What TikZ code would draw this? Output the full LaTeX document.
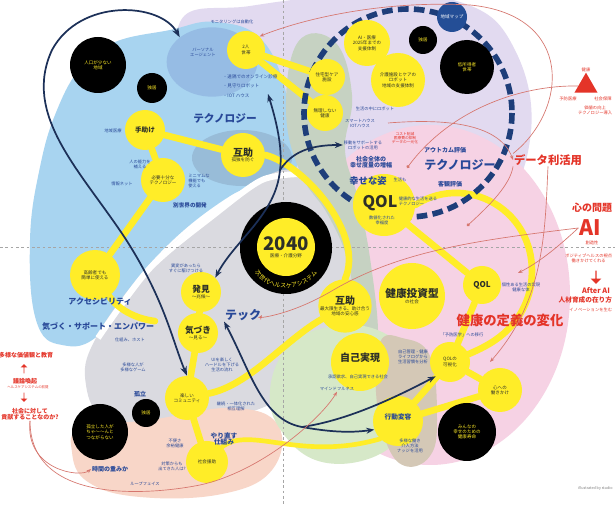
\documentclass[tikz,border=0pt]{standalone}
\usepackage{fontspec}
\newfontfamily\jp{Noto Sans CJK JP}
\usetikzlibrary{arrows.meta,shapes.geometric,shapes.arrows,decorations.text}
\pgfdeclarelayer{back}
\pgfdeclarelayer{mid}
\pgfsetlayers{back,mid,main}

\definecolor{skybg}{RGB}{168,212,240}
\definecolor{persbg}{RGB}{150,188,228}
\definecolor{gojobg}{RGB}{152,188,216}
\definecolor{lavbg}{RGB}{226,218,240}
\definecolor{pinkbg}{RGB}{246,210,228}
\definecolor{sagebg}{RGB}{198,210,194}
\definecolor{graybg}{RGB}{218,218,224}
\definecolor{greenbg}{RGB}{214,232,200}
\definecolor{peachbg}{RGB}{248,214,200}
\definecolor{tanbg}{RGB}{212,200,182}
\definecolor{hlyellow}{RGB}{255,237,40}
\definecolor{navy}{RGB}{28,48,88}
\definecolor{dashnavy}{RGB}{30,62,122}
\definecolor{inkblue}{RGB}{40,72,152}
\definecolor{inkdark}{RGB}{45,48,40}
\definecolor{hlred}{RGB}{228,52,40}
\definecolor{pinkline}{RGB}{214,118,110}
\definecolor{mapblue}{RGB}{36,78,150}

\tikzset{every picture/.style={line width=0.75pt}}
\tikzset{
  ydisc/.style={circle, fill=hlyellow, inner sep=0pt, minimum size={#1*1.5pt}, align=center, text=inkdark, font=\jp\fontsize{3.4}{4}\selectfont},
  bdisc/.style={circle, fill=black, inner sep=0pt, minimum size={#1*1.5pt}, align=center, text=hlyellow, font=\jp\fontsize{3.4}{4}\selectfont},
  lbl/.style={inner sep=0.5pt, align=center, text=inkblue, font=\jp\fontsize{3.2}{3.9}\selectfont},
  redlbl/.style={lbl, text=hlred},
  bigblue/.style={inner sep=0.5pt, align=center, text=inkblue, font=\jp\bfseries\fontsize{#1}{#1}\selectfont},
  bigred/.style={bigblue=#1, text=hlred},
  yband/.style={draw=hlyellow, line width=5pt, line cap=round},
  navyline/.style={draw=navy, line width=1.3pt},
  navytip/.style={-{Stealth[length=6pt,width=4.5pt]}},
  pinkarrow/.style={draw=pinkline, line width=0.5pt, -{Stealth[length=3.5pt,width=2.6pt]}},
  blockarrow/.style={single arrow, fill=hlred, inner sep=0pt, single arrow head extend=1.5pt, minimum height=#1, minimum width=5pt},
}

\begin{document}
\begin{tikzpicture}[x=0.75pt,y=0.75pt,yscale=-1,xscale=1]
\useasboundingbox (0,0) rectangle (615,505);

\begin{pgfonlayer}{back}
\fill[white] (0,0) rectangle (615,505);
%Shape: Blob [lavender]
\fill[lavbg] plot[smooth cycle, tension=0.7] coordinates {(180,22) (250,6) (350,-4) (460,2) (515,50) (530,140) (490,220) (400,255) (310,235) (250,180) (200,110)};
%Shape: Blob [sky blue]
\fill[skybg] plot[smooth cycle, tension=0.7] coordinates {(40,167) (57,110) (82,66) (115,42) (170,30) (215,22) (262,40) (288,100) (296,168) (230,196) (155,258) (102,332) (62,345) (36,320) (30,240)};
%Shape: Ellipse [personal agent]
\node (pers) [ellipse, fill=persbg, minimum width=68pt, minimum height=52pt, inner sep=0pt] at (212,62) {};
%Shape: Ellipse [mutual aid]
\fill[gojobg] (242,158) ellipse [x radius=50, y radius=28];
%Shape: Ellipse [pink]
\fill[pinkbg] (430,295) ellipse [x radius=140, y radius=170];
%Shape: Blob [gray]
\fill[graybg] plot[smooth cycle, tension=0.7] coordinates {(96,338) (150,265) (215,212) (262,178) (300,172) (335,205) (352,265) (350,330) (318,372) (275,402) (225,418) (165,424) (108,420) (86,385)};
%Shape: Blob [sage band]
\fill[sagebg] plot[smooth cycle, tension=0.7] coordinates {(298,42) (335,42) (352,95) (345,150) (358,198) (370,258) (378,335) (368,352) (357,320) (348,262) (328,215) (300,172) (286,110)};
%Shape: Blob [peach]
\fill[peachbg] plot[smooth cycle, tension=0.7] coordinates {(82,428) (150,420) (232,408) (278,425) (272,470) (222,494) (140,497) (88,482) (72,452)};
%Shape: Blob [green]
\fill[greenbg] plot[smooth cycle, tension=0.7] coordinates {(290,345) (335,326) (382,332) (408,362) (404,422) (378,455) (322,462) (282,432) (270,390)};
%Shape: Blob [tan]
\fill[tanbg] plot[smooth cycle, tension=0.7] coordinates {(380,342) (402,338) (430,356) (437,420) (430,456) (405,466) (386,442) (376,392)};
%Straight Lines [white edge]
\draw[white, line width=4.5pt] plot[smooth] coordinates {(98,338) (150,268) (215,214) (262,180) (300,174)};
%Straight Lines [cross]
\draw[gray!70, line width=0.6pt, dash pattern=on 2pt off 2pt] (0,247) -- (615,247);
\draw[gray!70, line width=0.6pt, dash pattern=on 2pt off 2pt] (283,0) -- (283,505);
\end{pgfonlayer}

%Shape: Circle [dashed ring]
\draw[dashnavy, line width=4.2pt, dash pattern=on 8pt off 4pt] (408,113) circle [radius=104];

%Shape: Circle [yellow]
\node (futari) [ydisc=19] at (246,50) {2人\\世帯};
\node (aiiryo) [ydisc=23] at (367,43) {AI・医療\\2025年までの\\支援体制};
\node (kaigo) [ydisc=27] at (398,80) {介護施設とケアの\\ロボット\\地域の支援体制};
\node (jutaku) [ydisc=18] at (327,77) {住宅型ケア\\施設};
\node (murinai) [ydisc=18] at (325,113) {無理しない\\健康};
\node (tedasuke) [ydisc=20] at (145,130) {\fontsize{5}{6}\selectfont\bfseries 手助け};
\node (gojo1) [ydisc=22] at (243,155) {{\fontsize{7.5}{8}\selectfont\bfseries 互助}\\孤独を防ぐ};
\node (hitsuyou) [ydisc=22] at (163,180) {必要十分な\\テクノロジー};
\node (kourei) [ydisc=25] at (95,275) {高齢者でも\\簡単に使える};
\node (qolbig) [ydisc=31] at (384,205) {};
\node (hakken) [ydisc=20] at (201,292) {{\fontsize{6.5}{7}\selectfont\bfseries 発見}\\〜兆候〜};
\node (kizuki) [ydisc=20] at (198,333) {{\fontsize{6.5}{7}\selectfont\bfseries 気づき}\\〜見る〜};
\node (tanoshii) [ydisc=22] at (187,398) {楽しい\\コミュニティ};
\node (enjo) [ydisc=21] at (207,462) {社会援助};
\node (gojo2) [ydisc=26] at (345,306) {{\fontsize{7.5}{8}\selectfont\bfseries 互助}\\最大限生きる、助け合う\\地域の安心感};
\node (toushi) [ydisc=33] at (412,296) {{\fontsize{8}{9}\selectfont\bfseries 健康投資型}\\の社会};
\node (qols) [ydisc=19] at (482,285) {\fontsize{6}{7}\selectfont\bfseries QOL};
\node (jiko) [ydisc=29] at (360,362) {};
\node (koudou) [ydisc=25] at (398,421) {};
\node (kashika) [ydisc=20] at (450,362) {QOLの\\可視化};
\node (kokoro) [ydisc=22] at (500,390) {心への\\働きかけ};

%Shape: Circle [black]
\node (jinkou) [bdisc=28] at (98,65) {人口が少ない\\地域};
\node (dokkyo1) [bdisc=15] at (152,88) {独居};
\node (dokkyo2) [bdisc=14] at (423,40) {独居};
\node (teishotoku) [bdisc=27] at (467,67) {低所得者\\世帯};
\node (chizu) [bdisc=15, fill=mapblue, text=white] at (452,17) {地域マップ};
\node (koritsu) [bdisc=28] at (100,432) {孤立した人が\\ちゃ〜〜んと\\つながらない};
\node (dokkyo3) [bdisc=14] at (146,413) {独居};
\node (minna) [bdisc=29] at (467,432) {みんなの\\幸せのための\\健康寿命};
\node (c2040) [bdisc=46] at (286,248) {};
\node (y2040) [ydisc=29] at (286,247) {{\fontsize{14}{14}\selectfont\bfseries 2040}\\[1pt]医療・介護分野};
\path[decorate, decoration={text along path, text align=center, text={|\jp\fontsize{4.5}{5}\selectfont\color{hlyellow}|次世代ヘルスケアシステム}}] (c2040.center) ++(160:40) arc [start angle=160, end angle=20, radius=40];

%Shape: Triangle
\node (tri) [regular polygon, regular polygon sides=3, fill=hlred, inner sep=0pt, minimum size=20pt] at (586,86) {};
\node (upar) [blockarrow=7pt, shape border rotate=90] at (24,369) {};
\node (dnar) [blockarrow=7pt, shape border rotate=270] at (24,397) {};
\node (dnar2) [blockarrow=10pt, shape border rotate=270, minimum width=8pt] at (596,277) {};

% Text Node
\node (monitor) [lbl] at (232,22) {モニタリングは自動化};
\node (perstxt) [lbl] at (203,52) {パーソナル\\エージェント};
\node (list) [lbl, align=left, anchor=west, font=\jp\fontsize{3.4}{7}\selectfont] at (222,86) {・遠隔でのオンライン診療\\・見守りロボット\\・IOT ハウス};
\node (tech1) [bigblue=8] at (225,118) {テクノロジー};
\node (chiiki) [lbl] at (113,131) {地域医療};
\node (nouryoku) [lbl] at (140,164) {人の能力を\\補える};
\node (jouhou) [lbl] at (122,184) {情報ネット};
\node (minimum) [lbl, align=left] at (199,181) {ミニマムな\\機能でも\\使える};
\node (betsu) [bigblue=4.2] at (190,205) {別世界の開発};
\node (ihen) [lbl] at (186,268) {異変があったら\\すぐに駆けつける};
\node (access) [bigblue=6] at (100,301) {アクセシビリティ};
\node (kizuku) [bigblue=6] at (98,326) {気づく・サポート・エンパワー};
\node (shikumi) [lbl] at (130,340) {仕組み、ホスト};
\node (tayou) [lbl] at (133,367) {多様な人が\\多様なゲーム};
\node (techtxt) [bigblue=9] at (243,315) {テック};
\node (uitxt) [lbl] at (222,365) {UIを楽しく\\ハードルを下げる\\生活の流れ};
\node (keizoku) [lbl] at (236,406) {継続・一体化された\\相互理解};
\node (yarinaoshi) [bigblue=5] at (224,439) {やり直す\\仕組み};
\node (koritsutxt) [bigblue=4.5] at (140,394) {孤立};
\node (jikan) [bigblue=4.5] at (110,469) {時間の重みか};
\node (loop) [lbl] at (145,484) {ループフェイス};
\node (fuben) [lbl] at (175,443) {不便さ\\余裕健康};
\node (taisaku) [lbl] at (172,466) {対策からも\\出てきた人は?};
\node (kachi) [bigred=4.5, anchor=east] at (54,355) {多様な価値観と教育};
\node (giron) [bigred=4.5] at (25,381) {議論喚起};
\node (giron2) [redlbl, font=\jp\fontsize{2.6}{3}\selectfont] at (28,387) {ヘルスケアシステムの前提};
\node (shakai) [bigred=4.5] at (30,414) {社会に対して\\貢献することなのか?};
\node (robot) [lbl] at (375,109) {生活の中にロボット};
\node (smart) [lbl] at (360,123) {スマートハウス\\IOTハウス};
\node (idou) [lbl] at (363,145) {移動をサポートする\\ロボットの活用};
\node (cost) [redlbl, font=\jp\fontsize{2.8}{3.3}\selectfont] at (405,138) {コスト削減\\医療費の抑制\\データの一元化};
\node (zentai) [bigblue=4.5] at (371,162) {社会全体の\\幸せ度量の増幅};
\node (shiawase) [bigblue=7] at (368,181) {幸せな姿};
\node (seikatsu) [lbl] at (400,180) {生活も};
\node (qoltxt) [inner sep=0pt, text=inkdark, font=\jp\bfseries\fontsize{12}{12}\selectfont] at (380,203) {QOL};
\node (qolsub) [lbl, align=left] at (418,201) {健康的な生活を送る\\テクノロジー};
\node (qolsub2) [lbl] at (382,220) {数値化された\\幸福度};
\node (outcome) [bigblue=4.5] at (445,150) {アウトカム評価};
\node (tech2) [bigblue=9] at (460,165) {テクノロジー};
\node (kyakkan) [bigblue=4.5] at (450,184) {客観評価};
\node (data) [bigred=8.5] at (548,160) {データ利活用};
\node (kenko) [redlbl] at (586,70) {健康};
\node (yobo) [redlbl] at (568,99) {予防医療};
\node (hosho) [redlbl] at (603,99) {社会保障};
\node (kachi2) [redlbl, anchor=east] at (613,110) {価値の向上\\テクノロジー導入};
\node (kokoromon) [bigred=7.5, anchor=east] at (613,208) {心の問題};
\node (ai) [bigred=16] at (590,228) {AI};
\node (souzou) [redlbl] at (592,243) {創造性};
\node (posi) [redlbl, anchor=east] at (613,258) {ポジティブヘルスの視点\\働きかけてくれる};
\node (afterai) [bigred=5.5] at (596,291) {After AI};
\node (jinzai) [bigred=5, anchor=east] at (613,300) {人材育成の在り方};
\node (inov) [redlbl, anchor=east] at (613,310) {イノベーションを生む};
\node (teigi) [bigred=10] at (510,320) {健康の定義の変化};
\node (yobou2) [lbl] at (462,335) {「予防医学」への移行};
\node (kosei) [lbl] at (521,287) {個性ある生活の実現\\健康な体};
\node (jikotxt) [bigblue=7.5, text=inkdark] at (360,358) {自己実現};
\node (shounin) [lbl] at (358,377) {承認欲求、自己実現できる社会};
\node (mindful) [lbl] at (337,389) {マインドフルネス};
\node (koudoutxt) [bigblue=5] at (398,417) {行動変容};
\node (tayou2) [lbl] at (410,446) {多様な働き\\介入方法\\ナッジを活用};
\node (jikokanri) [lbl] at (413,357) {自己管理・健康\\ライフログから\\生活習慣を分析};
\node (credit) [inner sep=0pt, anchor=east, text=gray, font=\jp\fontsize{2.8}{3}\selectfont] at (613,488) {illustrated by studio};

%Yellow bands
\begin{pgfonlayer}{mid}
\draw[yband] (futari) -- (jutaku);
\draw[yband] (futari) -- (murinai);
\draw[yband] (tedasuke) -- (gojo1);
\draw[yband] (tedasuke) -- (hitsuyou);
\draw[yband] (hitsuyou) -- (kourei);
\draw[yband] (kourei) .. controls (115,305) and (130,318) .. (kizuku.north east);
\draw[yband] (hakken) -- (kizuki);
\draw[yband] (kizuki) -- (tanoshii);
\draw[yband] (tanoshii) -- (enjo);
\draw[yband] (tanoshii) .. controls (250,385) and (285,340) .. (gojo2);
\draw[yband] (gojo1.east) .. controls (305,165) and (365,235) .. (gojo2.north);
\draw[yband, line width=3.5pt] (enjo.north east) .. controls (250,425) and (300,462) .. (koudou.south west);
\draw[yband] (qolbig) -- (qols);
\draw[yband] (qolbig.east) .. controls (470,170) and (545,215) .. (530,290) .. controls (520,330) and (490,345) .. (kashika);
\draw[yband] (qols) -- (kashika);
\draw[yband] (kashika) -- (koudou);
\draw[yband] (kashika) -- (kokoro);
\draw[yband] (koudou) -- (kokoro);
\end{pgfonlayer}

%Navy arrows
\draw[navyline, {Stealth[length=7pt,width=5pt]}-{Stealth[length=7pt,width=5pt]}] (tanoshii.north) .. controls (172,340) and (165,300) .. (125,238) .. controls (80,170) and (22,115) .. (52,50) .. controls (80,-2) and (160,2) .. (pers.north west);
\coordinate (n2top) at (268,94);
\coordinate (n2mid) at (280,170);
\draw[navyline, {Stealth[length=6pt,width=4.5pt]}-{Stealth[length=6pt,width=4.5pt]}] (n2top) .. controls (276,120) and (283,148) .. (n2mid) .. controls (276,215) and (235,240) .. (hakken.north east);
\draw[navyline, navytip] (n2mid) .. controls (292,152) and (310,145) .. (idou.west);
\coordinate (n3mid) at (302,427);
\draw[navyline, {Stealth[length=6pt,width=4.5pt]}-{Stealth[length=6pt,width=4.5pt]}] (techtxt.south west) .. controls (250,370) and (262,420) .. (n3mid) .. controls (330,432) and (350,433) .. (koudou.200);
\draw[navyline, navytip] (n3mid) .. controls (350,420) and (400,395) .. (kashika.south west);

%Pink arrows
\coordinate (pk) at (388,123);
\coordinate (dot1) at (407,168);
\coordinate (dot2) at (467,226);
\coordinate (ptqol) at (518,273);
\coordinate (ptkoko) at (490,362);
\draw[pinkarrow] (data.north west) .. controls (568,110) and (575,15) .. (470,5) .. controls (380,0) and (300,20) .. (futari.north east);
\draw[pinkarrow] (pk) .. controls (450,118) and (500,125) .. (data.west);
\draw[pinkarrow, -{Circle[length=2.5pt]}] (tri.west) .. controls (520,85) and (450,110) .. (dot1);
\draw[pinkarrow, -{Circle[length=2.5pt]}] (data.south west) .. controls (510,185) and (490,205) .. (dot2);
\draw[pinkarrow] (data.south) .. controls (545,230) and (545,300) .. (ptkoko);
\draw[pinkarrow] (ai.west) .. controls (560,245) and (540,262) .. (ptqol);
\draw[pinkarrow] (ai.west) .. controls (480,240) and (400,250) .. (330,292) .. controls (290,315) and (260,318) .. (techtxt.east);
\draw[pinkarrow] (shakai.south) .. controls (25,470) and (80,478) .. (jikan.west);
\draw[pinkarrow] (shakai.south) .. controls (30,505) and (150,495) .. (200,485) .. controls (260,472) and (320,420) .. (mindful.south);

\end{tikzpicture}
\end{document}
